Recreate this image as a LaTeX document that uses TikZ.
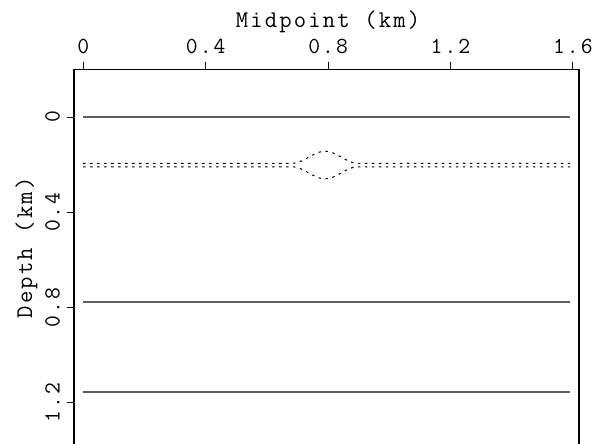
\documentclass[tikz,border=0pt]{standalone}
\usepackage{fontspec}
\usepackage{tikz}
\usetikzlibrary{positioning}
\definecolor{linegray}{RGB}{95,95,95}
\newfontfamily\plotfont[LetterSpace=9]{Latin Modern Mono}

\begin{document}
\begin{tikzpicture}[x=1pt, y=-1pt,
    axis/.style={draw=black, line width=1.3pt},
    tickmark/.style={black, line width=1pt},
    ticklab/.style={font=\fontsize{23}{26}\plotfont},
    axlab/.style={font=\fontsize{24}{28}\plotfont},
    reflector/.style={linegray, line width=1.3pt},
    dotline/.style={black, line width=1pt, dash pattern=on 2.5pt off 4.5pt}]

    \useasboundingbox (0,0) rectangle (594,444);

    % Frame (runs off the bottom)
    \draw[axis] (74,444) -- (74,69.5) -- (579,69.5) -- (579,444);

    % Midpoint axis
    \foreach \i/\m in {1/0,2/0.4,3/0.8,4/1.2,5/1.6} {
        \draw[tickmark] ({83.3+306*\m},62) -- ({83.3+306*\m},69.5);
        \node[ticklab, anchor=base] (mx\i) at ({83.3+306*\m},53) {\m};
    }
    \node[axlab, anchor=base] (mlab) at (328,28) {Midpoint (km)};

    % Depth axis
    \foreach \i/\d in {1/0,2/0.4,3/0.8,4/1.2} {
        \draw[tickmark] (67,{117+237.8*\d}) -- (74,{117+237.8*\d});
        \node[ticklab, rotate=90, anchor=base] (dz\i) at (59.5,{117+237.8*\d}) {\d};
    }
    \node[axlab, rotate=90, anchor=base] (dlab) at (32,248) {Depth (km)};

    % Reflectors
    \foreach \y in {117,302,392} {
        \draw[reflector] (83,\y) -- (570,\y);
    }

    % Lens
    \draw[dotline] (83,163.3) -- (292,163.3)
        -- plot[domain=292:358, samples=33] (\x, {163.3-12*(1+cos(180*(\x-325)/33))/2})
        -- (570,163.3);
    \draw[dotline] (83,166.8) -- (292,166.8)
        -- plot[domain=292:358, samples=33] (\x, {166.8+12*(1+cos(180*(\x-325)/33))/2})
        -- (570,166.8);
\end{tikzpicture}
\end{document}
